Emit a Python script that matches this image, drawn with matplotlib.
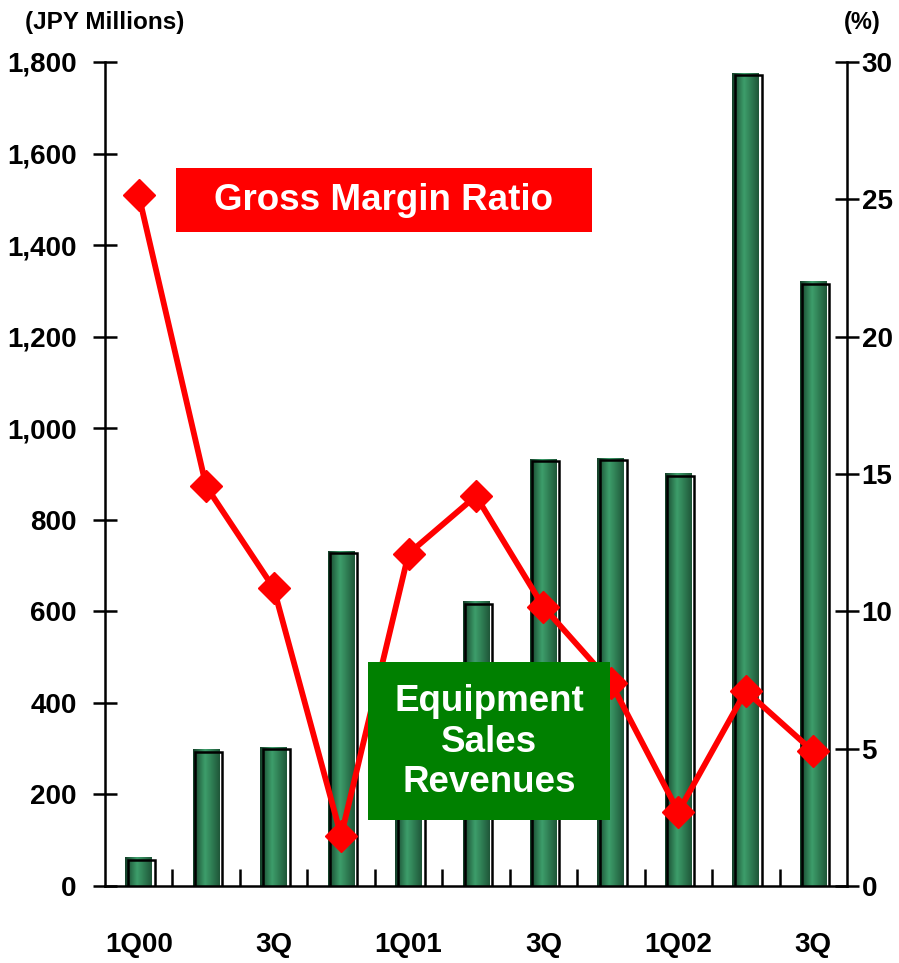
import matplotlib
matplotlib.use("Agg")
import matplotlib.pyplot as plt
import matplotlib.transforms as mtransforms
from matplotlib.patches import Rectangle
import numpy as np

quarters = ["1Q00", "2Q00", "3Q00", "4Q00", "1Q01", "2Q01", "3Q01", "4Q01", "1Q02", "2Q02", "3Q02"]
tick_labels = ["1Q00", "", "3Q", "", "1Q01", "", "3Q", "", "1Q02", "", "3Q"]
revenues = [63, 299, 304, 732, 370, 622, 933, 935, 902, 1776, 1321]
margin_pct = [25.15, 14.55, 10.85, 1.82, 12.1, 14.2, 10.16, 7.4, 2.7, 7.1, 4.9]

plt.rcParams['font.family'] = ['Liberation Sans', 'DejaVu Sans']
plt.rcParams['font.weight'] = 'bold'

fig = plt.figure(figsize=(8.99, 9.63), dpi=100)
ax = fig.add_axes([105/899, 1-886/963, (847-105)/899, (886-62)/963])
ax2 = ax.twinx()

x = np.arange(len(quarters)) + 0.5
width = 0.4

# gradient
grad = np.linspace(0, 1, 64)
dark_l = np.array([0.08, 0.25, 0.16])
light = np.array([0.24, 0.62, 0.42])
dark_r = np.array([0.12, 0.34, 0.22])
cols = []
for g in grad:
    if g < 0.45:
        t = g / 0.45
        c = dark_l * (1 - t) + light * t
    else:
        t = (g - 0.45) / 0.55
        c = light * (1 - t) + dark_r * t
    cols.append(c)
img = np.array(cols)[None, :, :]

bars = ax.bar(x, revenues, width=width, color='#2e8b57', zorder=2)
offset = mtransforms.ScaledTranslation(2.5/100, -2.5/100, fig.dpi_scale_trans)
for b in bars:
    x0, y0 = b.get_x(), b.get_y()
    w, h = b.get_width(), b.get_height()
    im = ax.imshow(img, extent=[x0, x0 + w, y0, y0 + h], aspect='auto', zorder=2.5, interpolation='bilinear')
    im.set_clip_path(b)
    r = Rectangle((x0, y0), w, h, fill=False, edgecolor='black', linewidth=1.8,
                  transform=ax.transData + offset, zorder=3)
    ax.add_patch(r)

ax.set_xlim(0, len(quarters))
ax.set_ylim(0, 1800)
ax.set_yticks(np.arange(0, 1801, 200))
ax.set_yticklabels([f"{v:,}" for v in range(0, 1801, 200)], fontsize=20, fontweight='bold')
ax.set_xticks(x)
ax.set_xticklabels(tick_labels, fontsize=20, fontweight='bold')
ax.tick_params(axis='x', which='major', length=0, pad=33)
ax.set_xticks(np.arange(1, len(quarters)), minor=True)
ax.tick_params(axis='x', which='minor', direction='in', length=12, width=1.8)
ax.tick_params(axis='y', direction='inout', length=17, width=1.8, pad=12)

ax2.set_ylim(0, 30)
ax2.set_yticks(np.arange(0, 31, 5))
ax2.set_yticklabels([str(v) for v in range(0, 31, 5)], fontsize=20, fontweight='bold')
ax2.tick_params(axis='y', direction='inout', length=17, width=1.8, pad=2)
ax2.plot(x, margin_pct, color='#ff0000', linewidth=4.2, marker='D', markersize=16,
         markeredgecolor='#ff0000', zorder=5)

for a in (ax, ax2):
    a.spines['top'].set_visible(False)
    a.set_facecolor('none')
    for s in ('left', 'right', 'bottom'):
        a.spines[s].set_linewidth(1.8)
ax.spines['right'].set_visible(False)
ax2.spines['left'].set_visible(False)
ax2.spines['bottom'].set_visible(False)
ax.set_zorder(1)
ax2.set_zorder(2)

# Annotation boxes (figure pixel coords)
def fig_rect(x0, y0, x1, y1, color):
    fig.patches.append(Rectangle((x0/899, 1-y1/963), (x1-x0)/899, (y1-y0)/963,
                                 transform=fig.transFigure, facecolor=color,
                                 edgecolor='none', zorder=10))

fig_rect(176, 168, 592, 232, '#ff0000')
fig.text((176+592)/2/899, 1-201/963, "Gross Margin Ratio", color='white', fontsize=26.5,
         fontweight='bold', ha='center', va='center', zorder=11)
fig_rect(368, 662, 610, 820, '#008000')
fig.text((368+610)/2/899, 1-742/963, "Equipment\nSales\nRevenues", color='white', fontsize=26.5,
         fontweight='bold', ha='center', va='center', zorder=11, linespacing=1.2)

fig.text(25/899, 1-22/963, "(JPY Millions)", fontsize=17.5, fontweight='bold', ha='left', va='center')
fig.text(862/899, 1-22/963, "(%)", fontsize=17, fontweight='bold', ha='center', va='center')

fig.savefig("out.png", dpi=100)
